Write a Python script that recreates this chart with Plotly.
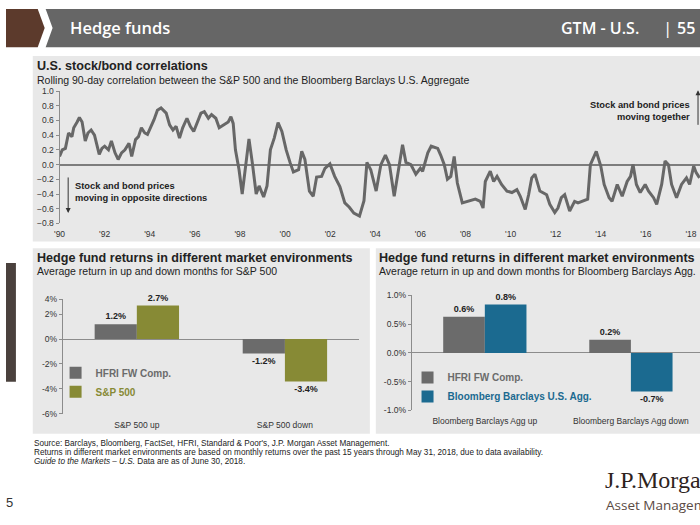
import plotly.graph_objects as go

W, H = 700, 525
def fx(px): return px / W
def fy(py): return 1 - py / H

# ---------------- data ----------------
years = [1990.0,1990.12,1990.26,1990.4,1990.55,1990.63,1990.78,1990.88,1991.0,1991.14,1991.26,1991.4,1991.55,1991.76,1991.88,
         1992.0,1992.17,1992.3,1992.46,1992.6,1992.75,1992.9,1993.08,1993.2,1993.37,1993.5,1993.63,1993.78,1993.9,
         1994.04,1994.19,1994.34,1994.5,1994.73,1994.88,1995.03,1995.17,1995.32,1995.46,1995.65,1995.8,1995.95,
         1996.1,1996.27,1996.42,1996.6,1996.74,1996.93,1997.08,1997.3,1997.48,1997.6,1997.7,1997.8,1997.96,
         1998.1,1998.25,1998.4,1998.55,1998.72,1998.85,1999.05,1999.2,1999.35,1999.52,1999.69,1999.86,
         2000.05,2000.22,2000.37,2000.6,2000.74,2000.88,2001.08,2001.25,2001.4,2001.62,2001.77,2001.99,
         2002.2,2002.43,2002.65,2002.85,2003.05,2003.3,2003.5,2003.63,2003.8,2004.04,2004.25,2004.45,2004.63,
         2004.84,2005.0,2005.21,2005.36,2005.58,2005.8,2006.0,2006.1,2006.33,2006.48,2006.77,2006.9,2007.06,
         2007.2,2007.35,2007.5,2007.64,2007.86,2008.15,2008.44,2008.66,2008.78,2008.88,2009.1,2009.25,2009.4,
         2009.6,2009.84,2010.06,2010.28,2010.43,2010.65,2010.8,2010.94,2011.08,2011.3,2011.6,2011.74,2011.96,
         2012.1,2012.25,2012.4,2012.62,2012.84,2012.99,2013.2,2013.42,2013.54,2013.71,2013.8,2014.0,2014.15,
         2014.37,2014.5,2014.73,2014.95,2015.17,2015.32,2015.43,2015.58,2015.75,2015.97,2016.12,2016.34,
         2016.48,2016.7,2016.85,2017.0,2017.14,2017.36,2017.58,2017.8,2017.94,2018.12,2018.23,2018.38]
corr = [0.11,0.2,0.22,0.43,0.38,0.5,0.58,0.64,0.58,0.32,0.43,0.47,0.4,0.14,0.22,
        0.25,0.2,0.32,0.16,0.07,0.16,0.2,0.29,0.11,0.34,0.38,0.5,0.43,0.41,
        0.5,0.61,0.74,0.77,0.7,0.54,0.47,0.52,0.36,0.5,0.63,0.52,0.45,
        0.56,0.7,0.72,0.63,0.68,0.63,0.5,0.54,0.58,0.65,0.56,0.2,-0.07,
        -0.4,0.02,0.35,0.02,-0.4,-0.29,-0.44,-0.29,0.2,0.36,0.57,0.45,
        0.2,0.03,-0.1,-0.07,0.18,0.07,-0.36,-0.43,-0.17,-0.16,-0.05,0.01,
        -0.16,-0.3,-0.52,-0.58,-0.66,-0.7,-0.49,0.03,-0.07,-0.36,0.0,0.13,0.0,
        -0.43,-0.13,0.27,0.03,0.0,-0.13,-0.05,-0.09,0.16,0.25,0.22,0.13,0.0,
        -0.2,-0.16,0.11,-0.25,-0.52,-0.5,-0.47,-0.5,-0.59,-0.23,-0.09,-0.23,-0.16,
        -0.27,-0.36,-0.38,-0.34,-0.43,-0.61,-0.41,-0.18,-0.13,-0.36,-0.41,-0.54,-0.65,
        -0.59,-0.45,-0.41,-0.63,-0.5,-0.52,-0.5,-0.47,0.0,0.11,0.18,-0.02,-0.27,
        -0.45,-0.5,-0.27,-0.43,-0.23,-0.16,0.0,-0.27,-0.38,-0.27,-0.36,-0.45,
        -0.54,-0.27,0.05,0.0,-0.27,-0.45,-0.27,-0.18,-0.27,-0.02,-0.11,-0.18]

year_ticks = list(range(1990, 2019, 2))
year_labels = ["'%02d" % (y % 100) for y in year_ticks]
corr_ticks = [-0.8,-0.6,-0.4,-0.2,0.0,0.2,0.4,0.6,0.8,1.0]

sp_cats = ["S&P 500 up", "S&P 500 down"]
hfri_sp = [1.2, -1.15]
sp500 = [2.7, -3.4]
hfri_sp_lbl = ["1.2%", "-1.2%"]
sp500_lbl = ["2.7%", "-3.4%"]
sp_yticks = [-6, -4, -2, 0, 2, 3.2]
sp_ytext = ["-6%", "-4%", "-2%", "0%", "2%", "4%"]

agg_cats = ["Bloomberg Barclays Agg up", "Bloomberg Barclays Agg down"]
hfri_agg = [0.63, 0.23]
agg = [0.84, -0.67]
hfri_agg_lbl = ["0.6%", "0.2%"]
agg_lbl = ["0.8%", "-0.7%"]
agg_yticks = [-1.0, -0.5, 0.0, 0.5, 1.0]
agg_ytext = ["-1.0%", "-0.5%", "0.0%", "0.5%", "1.0%"]

GRAY = "#6b6b6b"
OLIVE = "#878a35"
BLUE = "#1b6a90"
PANEL = "#e8e8e8"
FONT = "Liberation Sans, Arial, sans-serif"
TXT = "#222222"

fig = go.Figure()

fig.add_trace(go.Scatter(x=years, y=corr, xaxis="x", yaxis="y", mode="lines",
                         line=dict(color="#676767", width=3), showlegend=False, hoverinfo="skip"))

def bar(x, y, lbl, name, color, xa, ya, leg):
    return go.Bar(x=x, y=y, xaxis=xa, yaxis=ya, name=name, marker=dict(color=color, line=dict(width=0)),
                  text=["<b>%s</b>" % t for t in lbl], textposition="outside", cliponaxis=False,
                  textfont=dict(family=FONT, size=9, color=TXT), legend=leg, hoverinfo="skip")

fig.add_trace(bar(sp_cats, hfri_sp, hfri_sp_lbl,
                  "<b><span style='color:%s'>HFRI FW Comp.</span></b>" % GRAY, GRAY, "x3", "y3", "legend"))
fig.add_trace(bar(sp_cats, sp500, sp500_lbl,
                  "<b><span style='color:%s'>S&P 500</span></b>" % OLIVE, OLIVE, "x3", "y3", "legend"))
fig.add_trace(bar(agg_cats, hfri_agg, hfri_agg_lbl,
                  "<b><span style='color:%s'>HFRI FW Comp.</span></b>" % GRAY, GRAY, "x5", "y5", "legend2"))
fig.add_trace(bar(agg_cats, agg, agg_lbl,
                  "<b><span style='color:%s'>Bloomberg Barclays U.S. Agg.</span></b>" % BLUE, BLUE, "x5", "y5", "legend2"))

tickfont = dict(family=FONT, size=8.5, color="#333333")
AX = "#8c8c8c"

layout = dict(
    width=W, height=H, margin=dict(l=0, r=0, t=0, b=0),
    paper_bgcolor="white", plot_bgcolor="rgba(0,0,0,0)",
    barmode="group", bargap=0.43, bargroupgap=0,
    font=dict(family=FONT, color=TXT),
    # top chart
    xaxis=dict(domain=[fx(54), 1], range=[1990, 2018.4], anchor="y", tickvals=year_ticks, ticktext=year_labels,
               showline=False, showgrid=False, zeroline=False, ticks="outside", ticklen=2, tickcolor="rgba(0,0,0,0)",
               tickfont=tickfont),
    yaxis=dict(domain=[fy(222.7), fy(87.7)], range=[-0.8, 1.0], anchor="x", tickvals=corr_ticks, tickformat=".1f",
               showline=True, linecolor=AX, linewidth=1, ticks="outside", ticklen=3, tickcolor=AX,
               showgrid=False, zeroline=True, zerolinecolor="#7d7d7d", zerolinewidth=1.6, tickfont=tickfont),
    xaxis2=dict(overlaying="x", anchor="free", position=fy(161.7), range=[1990, 2018.4], tickvals=year_ticks,
                showticklabels=False, showline=False, showgrid=False, zeroline=False,
                ticks="outside", ticklen=3, tickcolor="#555555"),
    # bottom-left
    xaxis3=dict(domain=[fx(57.3), fx(356)], range=[-0.5, 1.5], anchor="y3", showline=False, showgrid=False,
                zeroline=False, ticks="outside", ticklen=3, tickcolor="rgba(0,0,0,0)", tickfont=tickfont),
    yaxis3=dict(domain=[fy(416.7), fy(300)], range=[-6, 3.2], anchor="x3", tickvals=sp_yticks, ticktext=sp_ytext,
                showline=True, linecolor=AX, ticks="outside", ticklen=3, tickcolor=AX, showgrid=False,
                zeroline=True, zerolinecolor="#8c8c8c", zerolinewidth=1.2, tickfont=tickfont),
    xaxis4=dict(overlaying="x3", anchor="free", position=fy(340.7), type="linear", range=[-0.5, 1.5], tickvals=[0.5],
                showticklabels=False, showline=False, showgrid=False, zeroline=False,
                ticks="outside", ticklen=3, tickcolor=AX),
    # bottom-right
    xaxis5=dict(domain=[fx(409.3), 1], range=[-0.5, 1.473], anchor="y5", showline=False, showgrid=False,
                zeroline=False, ticks="outside", ticklen=2, tickcolor="rgba(0,0,0,0)", tickfont=tickfont),
    yaxis5=dict(domain=[fy(413.3), fy(296)], range=[-1, 1], anchor="x5", tickvals=agg_yticks, ticktext=agg_ytext,
                showline=True, linecolor=AX, ticks="outside", ticklen=3, tickcolor=AX,
                showgrid=False, zeroline=True, zerolinecolor="#8c8c8c", zerolinewidth=1.2, tickfont=tickfont),
    xaxis6=dict(overlaying="x5", anchor="free", position=fy(355), type="linear", range=[-0.5, 1.473], tickvals=[0.5],
                showticklabels=False, showline=False, showgrid=False, zeroline=False,
                ticks="outside", ticklen=3, tickcolor=AX),
    legend=dict(x=fx(50), y=fy(360), xanchor="left", yanchor="top", bgcolor="rgba(0,0,0,0)",
                font=dict(family=FONT, size=10), tracegroupgap=0, itemclick=False),
    legend2=dict(x=fx(405), y=fy(365), xanchor="left", yanchor="top", bgcolor="rgba(0,0,0,0)",
                 font=dict(family=FONT, size=10), tracegroupgap=0, itemclick=False),
)

shapes = [
    # header
    dict(type="path", path="M0,%f L%f,%f L%f,%f L%f,%f L0,%f Z" % (fy(4), fx(32), fy(4), fx(39), fy(23.5), fx(32), fy(43), fy(43)),
         xref="paper", yref="paper", fillcolor="#5c3a2c", line=dict(width=0), layer="below"),
    dict(type="path", path="M%f,%f L1,%f L1,%f L%f,%f L%f,%f Z" % (fx(40), fy(4), fy(4), fy(43), fx(40), fy(43), fx(47), fy(23.5)),
         xref="paper", yref="paper", fillcolor="#666666", line=dict(width=0), layer="below"),
    # panels
    dict(type="rect", x0=fx(27), x1=1, y0=fy(241), y1=fy(52), xref="paper", yref="paper",
         fillcolor=PANEL, line=dict(width=0), layer="below"),
    dict(type="rect", x0=fx(27), x1=fx(367), y0=fy(437), y1=fy(248), xref="paper", yref="paper",
         fillcolor=PANEL, line=dict(width=0), layer="below"),
    dict(type="rect", x0=fx(373), x1=1, y0=fy(437), y1=fy(248), xref="paper", yref="paper",
         fillcolor=PANEL, line=dict(width=0), layer="below"),
    # dark side box
    dict(type="rect", x0=0, x1=fx(10), y0=fy(384), y1=fy(263), xref="paper", yref="paper",
         fillcolor="#4a413d", line=dict(width=0), layer="below"),
]

def ann(text, x, y, size, color=TXT, xanchor="left", yanchor="middle", family=FONT, align="left", weight=None, **kw):
    f = dict(family=family, size=size, color=color)
    if weight:
        f["weight"] = weight
    return dict(text=text, x=fx(x), y=fy(y), xref="paper", yref="paper", showarrow=False, xanchor=xanchor,
                yanchor=yanchor, align=align, font=f, **kw)

HDR = "Open Sans, sans-serif"
annotations = [
    ann("Hedge funds", 63, 23, 16.5, color="white", family=HDR, weight=600),
    ann("GTM - U.S.", 558, 23, 16, color="white", family=HDR, weight=600),
    ann("|", 667, 22.5, 17, color="white", family=HDR, xanchor="center"),
    ann("55", 675, 23, 16, color="white", family=HDR, weight=600),
    ann("<b>U.S. stock/bond correlations</b>", 29, 62.5, 12.6),
    ann("Rolling 90-day correlation between the S&P 500 and the Bloomberg Barclays U.S. Aggregate", 29, 76.5, 10.5),
    ann("<b>Stock and bond prices<br>moving in opposite directions</b>", 68, 191, 9.3),
    ann("<b>Stock and bond prices<br>moving together</b>", 692, 108, 9.3, xanchor="right", align="right"),
    dict(x=fx(62.7), y=fy(212), ax=0, ay=-37, xref="paper", yref="paper", text="", showarrow=True,
         arrowhead=2, arrowsize=1, arrowwidth=1, arrowcolor="#333333"),
    dict(x=fx(698), y=fy(87), ax=0, ay=36, xref="paper", yref="paper", text="", showarrow=True,
         arrowhead=2, arrowsize=1, arrowwidth=1, arrowcolor="#333333"),
    ann("<b>Hedge fund returns in different market environments</b>", 29, 258, 12.6),
    ann("Average return in up and down months for S&P 500", 29, 271.5, 10.5),
    ann("<b>Hedge fund returns in different market environments</b>", 374, 258, 12.6),
    ann("Average return in up and down months for Bloomberg Barclays Agg.", 374, 271.5, 10.5),
    ann("Source: Barclays, Bloomberg, FactSet, HFRI, Standard & Poor's, J.P. Morgan Asset Management.", 26, 447, 8.2),
    ann("Returns in different market environments are based on monthly returns over the past 15 years through May 31, 2018, due to data availability.", 26, 456, 8.2),
    ann("<i>Guide to the Markets – U.S.</i> Data are as of June 30, 2018.", 26, 465, 8.2),
    ann("5", -2, 507, 13, color="#333333"),
    ann("J.P.Morgan", 602, 484, 24, color="#2e231d", family="Liberation Serif, serif"),
    ann("Asset Management", 603, 509.5, 13.5, color="#5a4a44", family=HDR),
]

layout["shapes"] = shapes
layout["annotations"] = annotations
fig.update_layout(**layout)
fig.write_html("out.html")
